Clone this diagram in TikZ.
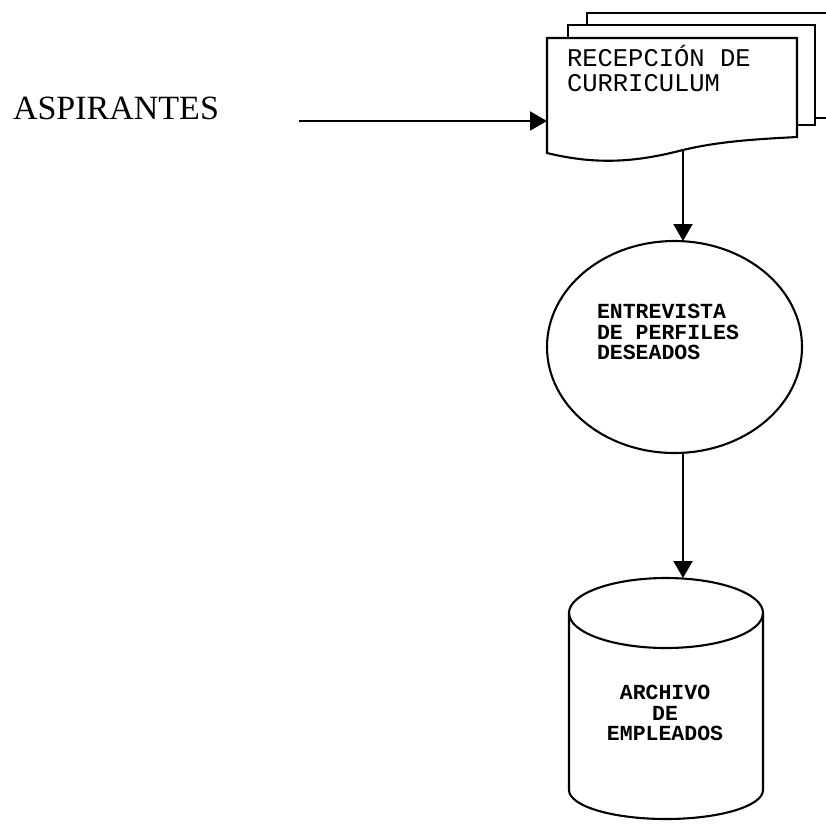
\documentclass[tikz,border=0pt]{standalone}
\usepackage{fontspec}
\setmainfont{Liberation Serif}
\newfontfamily\monofam{Liberation Mono}
\usetikzlibrary{arrows.meta,shapes.geometric}

\begin{document}
\begin{tikzpicture}[x=1pt,y=-1pt,line width=2.1pt,
  flow/.style={-{Triangle[length=17pt,width=19pt]}},
  page/.style={draw,fill=white,line join=miter},
  ghost/.style={inner sep=0pt,outer sep=0pt},
  doctext/.style={ghost,anchor=base west,font=\monofam\fontsize{25.5}{25}\selectfont},
  boldtext/.style={ghost,font=\monofam\bfseries\fontsize{21.5}{20.5}\selectfont}]
\useasboundingbox (0,0) rectangle (826,823);

% external entity
\node[ghost,anchor=base west,font=\fontsize{34}{40}\selectfont] (asp) at (13,119) {ASPIRANTES};

% stacked documents: back page, middle page, front page with wavy bottom
\begin{scope}
  \clip (0,0) rectangle (826,823);
  \draw[page] (587,118) -- (587,13) -- (850,13) -- (850,118) -- cycle;
  \draw[page] (568,25) rectangle (815,125);
  \draw[page] (547,38) -- (797,38) -- (797,137)
    .. controls (760,139) and (720,141) .. (683,150)
    .. controls (640,161) and (600,166) .. (547,153) -- cycle;
\end{scope}
\node[ghost,minimum width=250pt,minimum height=115pt] (doc) at (672,95.5) {};
\node[doctext] (doclabela) at (567,66) {RECEPCIÓN DE};
\node[doctext] (doclabelb) at (567,91) {CURRICULUM};
\coordinate (docout) at (683,150);

% process
\node[draw,ellipse,ghost,minimum width=255pt,minimum height=212pt] (ent) at (674.5,347) {};
\node[boldtext,align=left,anchor=west] (entlabel) at (597,332) {ENTREVISTA\\DE PERFILES\\DESEADOS};

% data store (cylinder)
\node[ghost,minimum width=194pt,minimum height=242pt] (arch) at (666,699) {};
\draw[fill=white] (arch.north west) ++(0,35) arc[start angle=180,end angle=-180,x radius=97,y radius=35];
\draw (569,613) -- (569,790) arc[start angle=180,end angle=360,x radius=97,y radius=-29] -- (763,613);
\node[boldtext,align=center] (archlabel) at (665,713) {ARCHIVO\\DE\\EMPLEADOS};

% flows
\coordinate (in) at (299,121);
\draw[flow] (in) -- (in -| doc.west);
\draw[flow] (docout) -- (docout |- ent.north);
\draw[flow] ([xshift=8.5pt]ent.south) -- ([xshift=8.5pt]ent.south |- arch.north);
\end{tikzpicture}
\end{document}
